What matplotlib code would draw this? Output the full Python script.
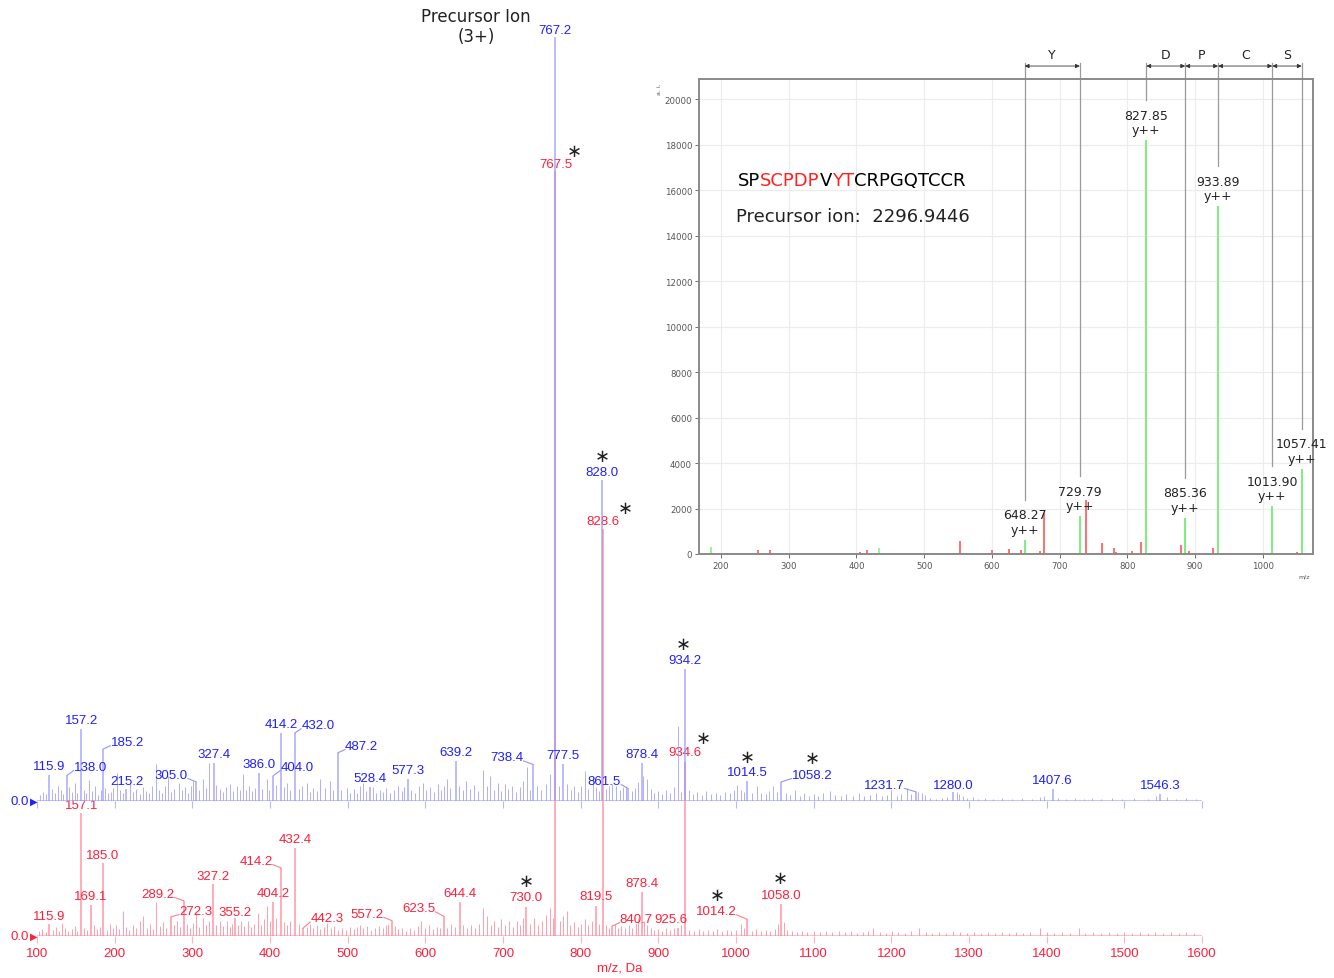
import numpy as np
import matplotlib
matplotlib.use("Agg")
import matplotlib.pyplot as plt

plt.rcParams['font.family'] = ['Liberation Sans', 'DejaVu Sans']

# ---- main spectra: labelled peaks (m/z, relative intensity, label, text dx/dy in px, leader, star offset)
blue_labels = [
    (115.9, 3.4, '115.9', 0, 9, False, None),
    (138.0, 3.3, '138.0', 24, 9, True, None),
    (157.2, 9.4, '157.2', 0, 9, False, None),
    (185.2, 6.8, '185.2', 24, 7, True, None),
    (215.2, 1.6, '215.2', 0, 8, False, None),
    (305.0, 2.5, '305.0', -25, 7, True, None),
    (327.4, 5.0, '327.4', 0, 9, False, None),
    (386.0, 3.7, '386.0', 0, 9, False, None),
    (404.0, 3.3, '404.0', 24, 9, True, None),
    (414.2, 8.9, '414.2', 0, 9, False, None),
    (432.0, 8.9, '432.0', 23, 8, True, None),
    (487.2, 6.3, '487.2', 24, 7, True, None),
    (528.4, 1.8, '528.4', 0, 9, False, None),
    (577.3, 2.9, '577.3', 0, 9, False, None),
    (639.2, 5.2, '639.2', 0, 9, False, None),
    (738.4, 4.8, '738.4', -26, 7, True, None),
    (767.2, 100.0, '767.2', 0, 7, False, None),
    (777.5, 4.8, '777.5', 0, 9, False, None),
    (828.0, 42.0, '828.0', 0, 8, False, (0, 16)),
    (861.5, 1.6, '861.5', -24, 8, True, None),
    (878.4, 5.0, '878.4', 0, 9, False, None),
    (934.2, 17.3, '934.2', 0, 9, False, (-2, 16)),
    (1014.5, 2.6, '1014.5', 0, 9, False, (0, 15)),
    (1058.2, 2.5, '1058.2', 31, 7, True, (0, 17)),
    (1231.7, 1.2, '1231.7', -32, 7, True, None),
    (1280.0, 1.2, '1280.0', 0, 7, False, None),
    (1407.6, 1.6, '1407.6', 0, 9, False, None),
    (1546.3, 0.9, '1546.3', 0, 9, False, None),
]

red_labels = [
    (115.9, 1.6, '115.9', 0, 8, False, None),
    (157.1, 16.1, '157.1', 0, 8, False, None),
    (169.1, 4.0, '169.1', 0, 9, False, None),
    (185.0, 9.6, '185.0', 0, 8, False, None),
    (272.3, 2.5, '272.3', 25, 6, True, None),
    (289.2, 4.6, '289.2', -26, 7, True, None),
    (327.2, 6.8, '327.2', 0, 8, False, None),
    (355.2, 2.3, '355.2', 0, 6, False, None),
    (404.2, 4.4, '404.2', 0, 9, False, None),
    (414.2, 8.9, '414.2', -25, 7, True, None),
    (432.4, 11.5, '432.4', 0, 9, False, None),
    (442.3, 1.0, '442.3', 24, 10, True, None),
    (557.2, 2.0, '557.2', -25, 7, True, None),
    (623.5, 2.6, '623.5', -25, 8, True, None),
    (644.4, 4.4, '644.4', 0, 9, False, None),
    (730.0, 3.8, '730.0', 0, 10, False, (0, 16)),
    (767.5, 100.0, '767.5', 0, 7, False, (19, 13)),
    (819.5, 3.9, '819.5', 0, 10, False, None),
    (828.6, 53.2, '828.6', 0, 8, False, (22, 13)),
    (840.7, 1.3, '840.7', 24, 7, True, None),
    (878.4, 5.7, '878.4', 0, 9, False, None),
    (925.6, 1.0, '925.6', -7, 9, False, None),
    (934.6, 22.7, '934.6', 0, 10, False, (18, 14)),
    (1014.2, 2.2, '1014.2', -31, 8, True, (1, 16)),
    (1058.0, 4.2, '1058.0', 0, 9, False, (-1, 17)),
]

# unlabelled peaks (m/z, relative intensity)
blue_noise = [
    (104, 0.8), (108, 1.2), (112, 0.9), (119, 1.6), (123, 1.1), (127, 2.0), (131, 1.4), (134, 0.9),
    (141, 1.8), (145, 1.2), (149, 2.4), (152, 1.0), (160, 1.5), (163, 1.1), (167, 2.8), (171, 1.3),
    (175, 1.9), (179, 0.8), (182, 1.4), (188, 1.7), (192, 1.0), (195, 1.2), (198, 1.7), (203, 3.6),
    (207, 1.5), (211, 1.1), (220, 2.3), (224, 1.2), (228, 1.6), (232, 0.9), (236, 1.8), (240, 1.3),
    (244, 1.0), (248, 2.0), (253, 4.9), (257, 1.4), (261, 1.1), (265, 1.9), (269, 3.3), (273, 1.2),
    (277, 1.6), (283, 2.3), (287, 1.4), (291, 1.8), (295, 1.1), (298, 2.0), (301, 2.6), (309, 1.5),
    (314, 2.9), (318, 1.7), (321.6, 5.0), (331, 2.1), (335, 1.6), (339, 1.2), (343, 1.8), (349, 2.2),
    (353, 1.3), (357, 1.9), (361, 1.5), (365, 3.5), (369, 1.4), (373, 2.0), (377, 1.3), (381, 1.7),
    (390, 1.6), (396, 2.9), (399, 1.5), (408, 2.1), (418, 1.8), (422, 2.4), (426, 1.5), (437, 1.6),
    (441, 2.0), (447, 2.4), (451, 1.2), (456, 1.7), (460, 1.3), (464, 2.9), (470.8, 1.7), (477, 2.6),
    (481, 1.4), (492, 1.5), (498.7, 1.7), (503, 1.1), (508, 1.6), (512, 1.0), (516, 1.9), (520, 2.4),
    (524, 1.3), (532, 1.8), (536, 1.0), (541, 1.5), (545, 1.2), (550, 1.7), (555, 1.0), (560, 1.4),
    (565, 2.0), (570, 1.3), (573, 1.8), (582, 1.5), (587, 1.1), (592, 2.0), (597, 2.4), (601, 1.4),
    (606, 1.8), (611, 1.2), (616, 2.2), (620, 1.5), (624, 1.9), (627.5, 2.9), (632, 1.7), (643, 2.0),
    (648, 1.4), (653, 2.6), (658, 1.6), (663, 2.1), (668, 1.3), (674.6, 4.0), (679, 2.0), (683, 3.3),
    (688, 1.5), (693, 2.4), (697, 1.3), (702.6, 2.2), (707, 1.6), (712, 2.0), (717, 1.2), (722, 1.8),
    (726, 2.6), (730.5, 4.4), (735, 1.5), (744, 2.0), (749, 1.5), (755, 2.2), (760.5, 3.5), (772, 2.0),
    (782, 2.2), (787, 1.4), (792, 1.9), (797, 1.2), (801, 2.0), (805.5, 3.9), (810, 1.6), (816, 3.3),
    (820, 1.8), (824, 1.3), (833, 1.6), (837, 2.0), (840, 2.2), (846, 2.0), (850, 1.4), (855, 1.8),
    (859, 2.0), (866, 1.3), (870, 1.7), (874, 2.5), (880.6, 3.3), (885.4, 2.9), (890, 1.6), (895, 1.0),
    (900, 1.3), (905, 0.9), (910, 1.5), (915, 1.1), (920, 1.8), (925.7, 9.8), (929, 1.2), (940, 1.4),
    (945, 0.9), (950, 1.2), (956, 0.8), (962, 1.3), (968, 0.9), (974, 1.1), (980, 0.8), (986, 1.2),
    (992, 1.0), (997, 1.4), (1001, 2.1), (1006, 1.5), (1010, 1.2), (1020, 1.0), (1026.6, 1.9),
    (1032, 1.1), (1038, 0.9), (1043, 1.3), (1048, 2.0), (1053, 1.2), (1065, 1.0), (1070, 0.8),
    (1076, 1.4), (1082, 0.7), (1088, 1.0), (1094, 0.6), (1100, 0.9), (1106, 0.7), (1112, 1.1),
    (1121, 1.3), (1128, 0.8), (1135, 0.6), (1142, 0.9), (1150, 0.7), (1158, 1.0), (1165, 0.6),
    (1172, 0.8), (1180, 1.0), (1188, 0.6), (1195, 0.8), (1200, 1.4), (1207, 0.7), (1213, 0.9),
    (1219.7, 1.7), (1225, 0.9), (1234.7, 1.2), (1239, 1.0), (1243, 0.8), (1250, 0.4), (1258, 0.3),
    (1265, 0.4), (1272, 0.5), (1284, 1.2), (1287, 0.9), (1292, 0.6), (1298, 0.4), (1305, 0.5),
    (1312, 0.3), (1320, 0.4), (1331, 0.3), (1343, 0.4), (1356, 0.3), (1368, 0.4), (1381, 0.3),
    (1392, 0.5), (1397, 0.7), (1415, 0.4), (1425, 0.3), (1436, 0.4), (1448, 0.3), (1459, 0.4),
    (1470, 0.3), (1484, 0.4), (1497, 0.3), (1512, 0.4), (1530, 0.3), (1541, 0.6), (1555, 0.5),
    (1566, 0.3), (1580, 0.4), (1592, 0.3),
]

red_noise = [
    (103, 0.6), (107, 0.9), (111, 0.5), (120, 0.8), (124, 1.2), (128, 0.7), (131.8, 1.7), (136, 1.0),
    (140, 0.6), (145, 0.9), (149, 1.3), (152, 0.7), (161, 1.1), (164, 0.8), (173, 1.5), (177, 0.9),
    (181, 1.2), (190, 0.8), (194, 1.6), (198, 1.0), (202, 1.4), (206, 0.9), (211, 3.3), (215, 1.2),
    (219, 0.8), (224, 1.5), (228, 1.0), (232, 1.9), (237, 2.6), (241, 1.1), (245, 1.6), (249, 0.9),
    (253, 4.4), (258, 1.3), (262, 1.8), (266, 1.0), (276, 1.4), (280, 2.0), (284, 1.2), (293, 1.6),
    (297, 1.1), (301, 1.7), (304.7, 3.0), (309, 1.2), (314, 2.3), (318, 1.5), (322, 1.9), (331, 1.4),
    (335, 2.0), (339, 1.3), (344, 1.9), (348, 1.2), (351, 1.6), (359, 1.4), (363, 2.0), (367, 1.3),
    (372, 1.9), (376, 1.2), (380, 1.6), (385, 3.0), (389, 1.5), (392, 2.2), (396.5, 3.9), (400, 2.0),
    (408, 2.4), (418, 1.8), (422, 1.4), (426, 2.0), (437, 1.6), (447, 1.2), (452, 1.6), (456, 1.0),
    (460, 1.4), (465, 0.9), (469, 1.2), (473, 1.7), (478, 1.0), (483, 1.3), (488, 0.8), (493, 1.1),
    (498, 0.8), (503, 1.2), (508, 0.9), (512, 1.2), (515.8, 1.5), (520, 1.0), (525, 1.3), (530, 0.8),
    (535, 1.1), (540, 1.3), (545, 1.0), (549, 1.5), (552, 1.6), (561, 1.3), (565, 0.9), (570, 1.0),
    (575, 0.7), (580, 1.1), (585, 0.8), (590, 1.3), (595, 2.0), (600, 1.0), (605, 1.4), (610, 0.9),
    (615, 1.2), (619, 1.0), (628, 1.1), (633, 1.6), (638, 1.2), (649, 1.5), (654, 1.1), (659, 1.4),
    (664, 1.0), (669, 1.6), (674.6, 3.7), (679, 2.6), (684, 1.4), (689, 1.9), (694, 1.2), (698, 2.2),
    (703, 1.4), (708, 1.9), (713, 1.2), (718, 2.0), (722, 1.5), (726, 2.4), (735, 1.6), (740, 2.4),
    (745, 1.4), (750, 2.0), (755, 2.8), (760.5, 3.7), (764, 2.4), (773, 2.0), (777, 2.6), (782, 3.3),
    (786, 1.5), (791, 1.8), (796, 1.2), (800, 1.6), (805, 2.2), (810, 1.4), (814, 2.0), (823, 1.6),
    (833, 1.4), (837, 1.1), (844, 1.6), (848, 1.0), (852, 1.3), (857, 1.0), (862, 1.4), (866, 1.0),
    (871, 1.6), (874, 2.4), (882, 2.0), (886, 1.5), (890, 1.0), (895, 0.8), (900, 0.9), (905, 0.7),
    (910, 1.0), (915, 0.8), (920, 1.1), (929, 1.4), (940, 0.8), (946, 0.6), (952, 0.9), (958, 0.6),
    (964, 0.8), (970, 0.6), (976, 0.9), (982, 0.6), (988, 0.8), (994, 0.6), (1000, 0.8), (1006, 1.6),
    (1010, 1.0), (1020, 0.7), (1026, 0.9), (1032, 0.6), (1038, 0.8), (1044, 0.6), (1050, 0.9),
    (1054, 1.6), (1062, 1.8), (1066, 0.8), (1072, 0.6), (1078, 0.5), (1085, 0.7), (1092, 0.5),
    (1100, 0.6), (1108, 0.5), (1116, 0.7), (1124, 0.5), (1132, 0.6), (1140, 0.5), (1148, 0.6),
    (1156, 0.4), (1164, 0.5), (1170, 0.6), (1177, 1.0), (1185, 0.5), (1193, 0.4), (1201, 0.6),
    (1209, 0.5), (1217, 0.4), (1225, 0.6), (1236, 1.0), (1245, 0.5), (1253, 0.4), (1262, 0.5),
    (1271, 0.4), (1280, 0.6), (1289, 0.5), (1298, 0.4), (1307, 0.5), (1316, 0.4), (1325, 0.5),
    (1334, 0.4), (1343, 0.5), (1352, 0.4), (1361, 0.5), (1370, 0.4), (1379, 0.5), (1392, 1.0),
    (1400, 0.5), (1410, 0.4), (1420, 0.5), (1430, 0.4), (1441, 1.0), (1450, 0.4), (1460, 0.5),
    (1470, 0.4), (1480, 0.5), (1490, 0.4), (1500, 0.5), (1510, 0.4), (1520, 0.5), (1530, 0.4),
    (1540, 0.5), (1550, 0.4), (1560, 0.5), (1570, 0.4), (1580, 0.5), (1590, 0.4),
]

main_ticks = list(range(100, 1700, 100))

# ---- inset: y++ fragment ions (green) and other peaks (red)
ion_mz = [648.27, 729.79, 827.85, 885.36, 933.89, 1013.90, 1057.41]
ion_int = [618, 1668, 18190, 1590, 15290, 2100, 3753]
ion_text = ['648.27', '729.79', '827.85', '885.36', '933.89', '1013.90', '1057.41']
green_extra_mz = [185, 433]
green_extra_int = [324, 247]
other_mz = [255, 273, 405, 415, 553, 600, 625, 643, 671, 677.5, 739, 762, 780, 783, 807, 820, 879, 891, 927, 1050]
other_int = [155, 170, 93, 170, 556, 155, 200, 155, 124, 1822, 2363, 480, 280, 100, 124, 510, 386, 124, 247, 93]
residues = ['Y', 'D', 'P', 'C', 'S']
residue_pairs = [(0, 1), (2, 3), (3, 4), (4, 5), (5, 6)]
peptide = [('SP', 'black'), ('SCPDP', '#ff2020'), ('V', 'black'), ('YT', '#ff2020'), ('CRPGQTCCR', 'black')]
precursor_text = 'Precursor ion:  2296.9446'

W, H = 1334, 979
BLUE_T, BLUE_P = '#1f1fff', '#9494ff'
RED_T, RED_P = '#ff1f3a', '#ff7f92'
PX = 0.72  # pixels -> points at 100 dpi
LABEL_SIZE = 9.5

fig = plt.figure(figsize=(W / 100, H / 100), dpi=100)


def px_axes(l, t, r, b):
    return fig.add_axes([l / W, 1 - b / H, (r - l) / W, (b - t) / H])


ax_r = px_axes(37, 0, 1202, 937)
ax_b = px_axes(37, 0, 1202, 802)
ax_r.set_zorder(1)
ax_b.set_zorder(2)


def spectrum(ax, labels, noise, ylim, tcol, pcol, light, show_labels):
    ax.patch.set_alpha(0)
    ax.set_xlim(100, 1600)
    ax.set_ylim(0, ylim)
    for s in ax.spines.values():
        s.set_visible(False)
    ax.set_yticks([])
    ax.set_xticks(main_ticks)
    ax.tick_params(axis='x', direction='out', length=5, width=0.8, color=light,
                   labelcolor=tcol, labelsize=LABEL_SIZE, pad=3, labelbottom=show_labels)
    ax.plot([100, 1600], [0, 0], color=light, lw=1.2, solid_capstyle='butt')
    nm, nh = np.array(noise).T
    ax.vlines(nm, 0, nh, color=pcol, lw=0.7, alpha=0.75)
    lm = [r[0] for r in labels]
    lh = [r[1] for r in labels]
    ax.vlines(lm, 0, lh, color=pcol, lw=1.2, alpha=0.75)
    for mz, h, txt, dx, dy, lead, star in labels:
        kw = {}
        if lead:
            rel = (0.0, 0.2) if dx > 0 else (1.0, 0.2)
            kw['arrowprops'] = dict(arrowstyle='-', color=pcol, lw=0.8, shrinkA=0, shrinkB=0,
                                    patchA=None, relpos=rel)
        ax.annotate(txt, (mz, h), xytext=(dx * PX, dy * PX), textcoords='offset points',
                    ha='center', va='center', color=tcol, fontsize=LABEL_SIZE, **kw)
        if star:
            ax.annotate('\u2217', (mz, h), xytext=((dx + star[0]) * PX, (dy + star[1]) * PX),
                        textcoords='offset points', ha='center', va='center', color='#222222',
                        fontsize=13, family='DejaVu Sans')
    ax.annotate('0.0', (100, 0), xytext=(-17 * PX, 0), textcoords='offset points',
                ha='center', va='center', color=tcol, fontsize=LABEL_SIZE)
    ax.annotate('\u25B6', (100, 0), xytext=(-3 * PX, 0), textcoords='offset points',
                ha='center', va='center', color=tcol, fontsize=7, family='DejaVu Sans')


spectrum(ax_r, red_labels, red_noise, 937 / 7.65, RED_T, RED_P, '#ffb3bd', True)
spectrum(ax_b, blue_labels, blue_noise, 802 / 7.64, BLUE_T, BLUE_P, '#b8b8ff', False)
ax_r.set_xlabel('m/z, Da', color=RED_T, fontsize=LABEL_SIZE, labelpad=2)

fig.text(476 / W, 1 - 17 / H, 'Precursor Ion', ha='center', va='center', fontsize=12,
         family='DejaVu Sans', color='#222222')
fig.text(476 / W, 1 - 37 / H, '(3+)', ha='center', va='center', fontsize=12,
         family='DejaVu Sans', color='#222222')

# ---- inset
ax_in = px_axes(699, 80, 1313, 555)
ax_in.set_zorder(3)
ax_in.set_facecolor('white')
ax_in.set_xlim(167.5, 1074)
ax_in.set_ylim(0, 20880)
ax_in.set_xticks(range(200, 1100, 100))
ax_in.set_yticks(range(0, 22000, 2000))
ax_in.grid(True, color='#ececec', lw=0.8)
ax_in.set_axisbelow(True)
for s in ax_in.spines.values():
    s.set_color('#8a8a8a')
    s.set_linewidth(1.4)
ax_in.tick_params(labelsize=6.2, colors='#555555', length=3, width=0.6, pad=2)
for lab in ax_in.get_xticklabels() + ax_in.get_yticklabels():
    lab.set_family('DejaVu Sans')

ax_in.vlines(other_mz, 0, other_int, color='#ff4848', lw=1.1)
ax_in.vlines(green_extra_mz, 0, green_extra_int, color='#7cf07c', lw=1.1)
ax_in.vlines(ion_mz, 0, ion_int, color='#7cf07c', lw=1.4)

top_line = 21600
for mz, h, txt in zip(ion_mz, ion_int, ion_text):
    ax_in.annotate(txt + '\ny++', (mz, h), xytext=(0, 4 * PX), textcoords='offset points',
                   ha='center', va='bottom', fontsize=9, family='DejaVu Sans',
                   color='#222222', linespacing=1.15)
    ax_in.plot([mz, mz], [h + 1750, top_line], color='#9a9a9a', lw=0.9, clip_on=False)

arrow_y = 21450
for res, (i, j) in zip(residues, residue_pairs):
    ax_in.annotate('', xy=(ion_mz[j], arrow_y), xytext=(ion_mz[i], arrow_y),
                   arrowprops=dict(arrowstyle='<|-|>,head_length=0.25,head_width=0.12',
                                   color='#333333', lw=0.6, shrinkA=0, shrinkB=0),
                   annotation_clip=False)
    ax_in.text((ion_mz[i] + ion_mz[j]) / 2, 21950, res, ha='center', va='center',
               fontsize=9, family='DejaVu Sans', color='#222222', clip_on=False)

t = ax_in.text(0.0635, 0.787, peptide[0][0], transform=ax_in.transAxes, ha='left', va='center',
               fontsize=13, family='DejaVu Sans', color=peptide[0][1])
for seg, col in peptide[1:]:
    t = ax_in.annotate(seg, xy=(1, 0.5), xycoords=t, ha='left', va='center',
                       fontsize=13, family='DejaVu Sans', color=col)
ax_in.text(0.060, 0.712, precursor_text, transform=ax_in.transAxes, ha='left', va='center',
           fontsize=13, family='DejaVu Sans', color='#222222')
ax_in.text(-0.065, 0.981, 'a. i.', transform=ax_in.transAxes, rotation=90, ha='center',
           va='center', fontsize=4.5, family='DejaVu Sans', color='#555555')
ax_in.text(0.985, -0.046, 'm/z', transform=ax_in.transAxes, ha='center', va='center',
           fontsize=4.5, family='DejaVu Sans', color='#555555')

fig.savefig('out.png', dpi=100, facecolor='white')
